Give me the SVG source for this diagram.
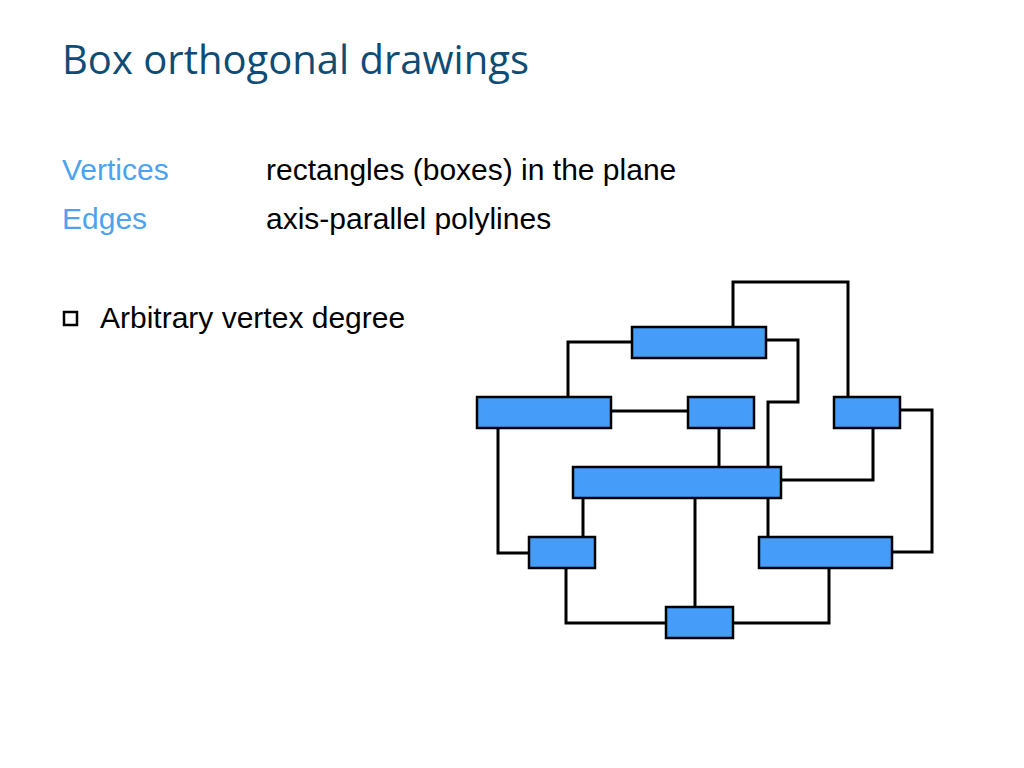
<svg xmlns="http://www.w3.org/2000/svg" width="1024" height="768" viewBox="0 0 1024 768">
<style>
.n{fill:#459df9;stroke:#000;stroke-width:2.5}
.e{fill:none;stroke:#000;stroke-width:3}
.t{font-family:"Liberation Sans",Arial,sans-serif;font-size:30px;fill:#000}
.k{font-family:"Liberation Sans",Arial,sans-serif;font-size:30px;fill:#4da3f0}
</style>
<rect width="1024" height="768" fill="#fff"/>
<text x="62" y="74" font-family="Open Sans,sans-serif" font-size="40" fill="#0f4c75">Box orthogonal drawings</text>
<text class="k" x="62" y="180">Vertices</text>
<text class="k" x="62" y="229">Edges</text>
<text class="t" x="266" y="180">rectangles (boxes) in the plane</text>
<text class="t" x="266" y="229">axis-parallel polylines</text>
<rect x="64" y="312" width="13" height="13" fill="none" stroke="#000" stroke-width="2.5"/>
<text class="t" x="100" y="328">Arbitrary vertex degree</text>
<g id="edges">
<polyline class="e" points="733,327 733,282 848,282 848,397"/>
<polyline class="e" points="632,342 568,342 568,397"/>
<polyline class="e" points="766,340 798,340 798,402 768,402 768,467"/>
<polyline class="e" points="611,411 688,411"/>
<polyline class="e" points="719,428 719,467"/>
<polyline class="e" points="873,428 873,480 781,480"/>
<polyline class="e" points="900,410 932,410 932,552 892,552"/>
<polyline class="e" points="498,428 498,553 529,553"/>
<polyline class="e" points="583,498 583,537"/>
<polyline class="e" points="695,498 695,607"/>
<polyline class="e" points="768,498 768,537"/>
<polyline class="e" points="566,568 566,623 666,623"/>
<polyline class="e" points="829,568 829,623 733,623"/>
</g>
<g id="A"><rect class="n" x="632" y="327" width="134" height="31"/></g>
<g id="B"><rect class="n" x="477" y="397" width="134" height="31"/></g>
<g id="C"><rect class="n" x="688" y="397" width="66" height="31"/></g>
<g id="D"><rect class="n" x="834" y="397" width="66" height="31"/></g>
<g id="E"><rect class="n" x="573" y="467" width="208" height="31"/></g>
<g id="F"><rect class="n" x="529" y="537" width="66" height="31"/></g>
<g id="G"><rect class="n" x="759" y="537" width="133" height="31"/></g>
<g id="H"><rect class="n" x="666" y="607" width="67" height="31"/></g>
</svg>
